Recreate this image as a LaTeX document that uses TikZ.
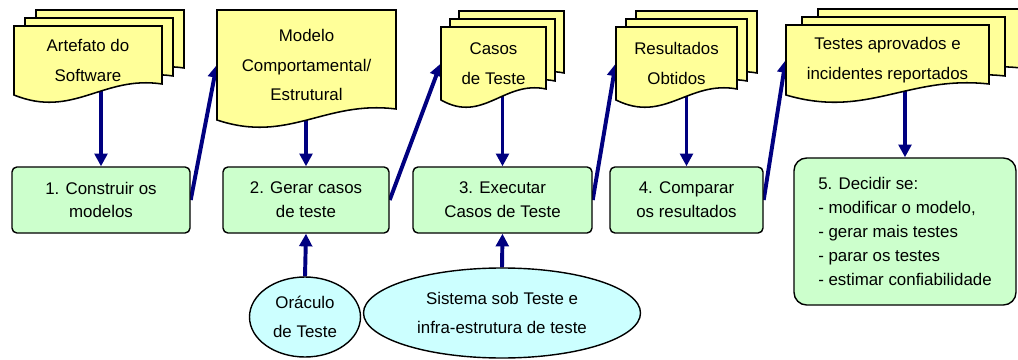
\documentclass[tikz,border=0pt]{standalone}
\usepackage{fontspec}
\setmainfont{Liberation Sans}
\usetikzlibrary{arrows.meta,shapes.geometric}
\pgfdeclarelayer{background}
\pgfsetlayers{background,main}

\definecolor{docyellow}{RGB}{255,255,153}
\definecolor{stepgreen}{RGB}{204,255,204}
\definecolor{inputcyan}{RGB}{204,255,255}
\definecolor{flownavy}{RGB}{0,0,128}

\newcommand{\pxu}{0.025cm}
% #1 name, #2 left, #3 top, #4 width, #5 height, #6 x offset of the pages, #7 pages, #8 text
\newcommand{\docstack}[8]{%
  \foreach \k in {#7}{%
    \pgfmathsetmacro{\lx}{#2+#6*\k}
    \pgfmathsetmacro{\ty}{#3-8*\k}
    \filldraw[docpage] (\lx,\ty) -- ({\lx+#4},\ty) -- ({\lx+#4},{\ty+#5-11})
      .. controls ({\lx+0.6*#4},{\ty+#5-20}) and ({\lx+0.4*#4},{\ty+#5+24}) .. (\lx,{\ty+#5}) -- cycle;
  }
  \node[doctext, minimum width=#4*\pxu, minimum height=#5*\pxu](#1) at ({#2+#4/2},{#3+#5/2}){#8};
}

\begin{document}
\begin{tikzpicture}[x=0.025cm, y=-0.025cm,
docpage/.style={draw=black, fill=docyellow, line width=1.1pt},
doctext/.style={align=center, inner sep=0pt, font=\fontsize{12}{21}\selectfont},
stepnode/.style={rectangle, rounded corners=3.5pt, draw=black, fill=stepgreen, line width=1pt, align=center, inner sep=0pt, font=\fontsize{12}{17}\selectfont},
inputnode/.style={ellipse, draw=black, fill=inputcyan, line width=1pt, align=center, inner sep=0pt, font=\fontsize{12}{20.5}\selectfont},
flow/.style={draw=flownavy, line width=2.8pt, -{Triangle[width=9pt,length=9pt]}},
]
\useasboundingbox (0,0) rectangle (1018,360);

%Documents
\docstack{artefato}{14}{26}{148}{69}{11}{2,1,0}{Artefato do\\Software}
\docstack{modelo}{217}{10}{179}{110}{0}{0}{Modelo\\Comportamental/\\Estrutural}
\docstack{casos}{441}{27}{105}{73}{9}{2,1,0}{Casos\\de Teste}
\docstack{resultados}{616}{27}{121}{73}{10}{2,1,0}{Resultados\\Obtidos}
\docstack{testes}{786}{25}{203}{70}{16}{2,1,0}{Testes aprovados e\\incidentes reportados}

%Nodes
\node[stepnode, minimum width=178*\pxu, minimum height=66*\pxu](b1) at (101,200){1. Construir os\\modelos};
\node[stepnode, minimum width=166*\pxu, minimum height=66*\pxu](b2) at (306,200){2. Gerar casos\\de teste};
\node[stepnode, minimum width=179*\pxu, minimum height=66*\pxu](b3) at (502.5,200){3. Executar\\Casos de Teste};
\node[stepnode, minimum width=153*\pxu, minimum height=66*\pxu](b4) at (686.5,200){4. Comparar\\os resultados};
\node[stepnode, rounded corners=9pt, align=left, minimum width=222*\pxu, minimum height=147*\pxu](b5) at (905,231.5){5. Decidir se:\\- modificar o modelo,\\- gerar mais testes\\- parar os testes\\- estimar confiabilidade};

\node[inputnode, minimum width=111*\pxu, minimum height=80*\pxu](oraculo) at (305,317){Oráculo\\de Teste};
\node[inputnode, minimum width=277*\pxu, minimum height=90*\pxu](sistema) at (502,313){Sistema sob Teste e\\infra-estrutura de teste};

%Lines
\begin{pgfonlayer}{background}
\draw[flow] (b1.north |- artefato.center) -- (b1.north);
\draw[flow] (b2.north |- modelo.center) -- (b2.north);
\draw[flow] (b3.north |- casos.center) -- (b3.north);
\draw[flow] (b4.north |- resultados.center) -- (b4.north);
\draw[flow] (b5.north |- testes.center) -- (b5.north);

\draw[flow] (b1.east) -- (modelo.west);
\draw[flow] (b2.east) -- (casos.west);
\draw[flow] (b3.east) -- (resultados.west);
\draw[flow] (b4.east) -- (testes.west);

\draw[flow] (oraculo.north) -- (b2.south);
\draw[flow] (sistema.north) -- (b3.south);
\end{pgfonlayer}

\end{tikzpicture}
\end{document}
